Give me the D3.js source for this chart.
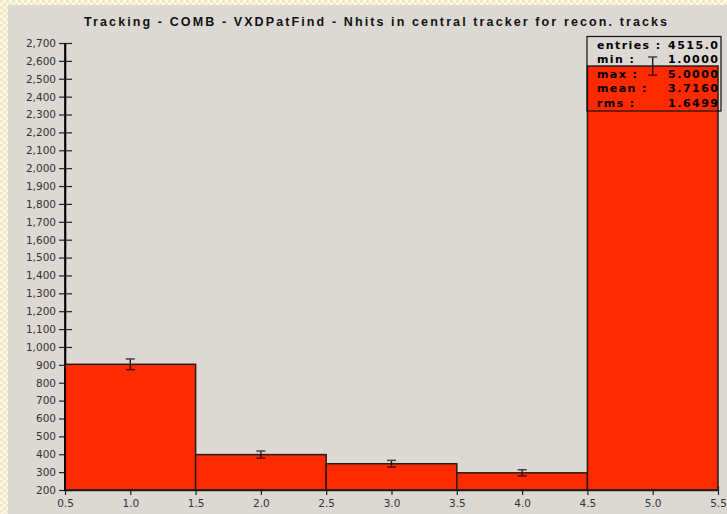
<!DOCTYPE html>
<html>
<head>
<meta charset="utf-8">
<script src="https://cdn.jsdelivr.net/npm/d3@7"></script>
<style>
  html, body { margin: 0; padding: 0; background: #ffffff; }
  svg { display: block; }
</style>
</head>
<body>
<svg id="chart" width="727" height="514"></svg>
<script>
// Histogram data: bin centres, entries per bin and statistics box rows
const binCenters = [1.0, 2.0, 3.0, 4.0, 5.0];
const binCounts = [903, 398, 347, 296, 2571];
const xTickValues = [0.5, 1.0, 1.5, 2.0, 2.5, 3.0, 3.5, 4.0, 4.5, 5.0, 5.5];
const yTickValues = d3.range(200, 2701, 100);
const statLabels = ["entries :", "min :", "max :", "mean :", "rms :"];
const statValues = ["4515.0", "1.0000", "5.0000", "3.7160", "1.6499"];
const chartTitle = "Tracking - COMB - VXDPatFind - Nhits in central tracker for recon. tracks";

const W = 727, H = 514;
const svg = d3.select("#chart");

// Checkered page backdrop
const defs = svg.append("defs");
const pat = defs.append("pattern")
  .attr("id", "checker").attr("width", 6).attr("height", 6)
  .attr("patternUnits", "userSpaceOnUse");
pat.append("rect").attr("width", 6).attr("height", 6).attr("fill", "#fbf8ec");
pat.append("rect").attr("width", 3).attr("height", 3).attr("fill", "#f3e8c4");
pat.append("rect").attr("x", 3).attr("y", 3).attr("width", 3).attr("height", 3).attr("fill", "#f3e8c4");
svg.append("rect").attr("width", W).attr("height", H).attr("fill", "url(#checker)");

// Grey plot panel
svg.append("rect").attr("x", 8).attr("y", 5).attr("width", W - 8).attr("height", H - 5)
  .attr("fill", "#dcd8d4");

const x = d3.scaleLinear().domain([0.5, 5.5]).range([65, 718]);
const y = d3.scaleLinear().domain([200, 2700]).range([490, 43]);

// Title
svg.append("text")
  .attr("x", 84).attr("y", 25.5)
  .attr("textLength", 583).attr("lengthAdjust", "spacing")
  .style("font-family", "'Liberation Sans', Arial, sans-serif")
  .style("font-weight", "bold").style("font-size", "12.5px")
  .attr("fill", "#111")
  .text(chartTitle);

// Y axis (ticks straddle the axis line)
const yAxis = d3.axisLeft(y).tickValues(yTickValues)
  .tickFormat(d3.format(",")).tickSizeInner(6).tickSizeOuter(0).tickPadding(3);
const gy = svg.append("g").attr("transform", "translate(65,0)").call(yAxis);
gy.selectAll(".tick line").attr("x2", 7).attr("x1", -6).attr("stroke", "#222").attr("stroke-width", 1.2);
gy.select(".domain").attr("stroke", "#000").attr("stroke-width", 1.6);
gy.selectAll(".tick text")
  .style("font-family", "'DejaVu Sans', Verdana, sans-serif")
  .style("font-size", "10.5px").attr("fill", "#333").attr("x", -9);

// X axis
const xAxis = d3.axisBottom(x).tickValues(xTickValues)
  .tickFormat(d3.format(".1f")).tickSizeOuter(0).tickPadding(5);
const gx = svg.append("g").attr("transform", "translate(0,490)").call(xAxis);
gx.selectAll(".tick line").attr("y1", -4).attr("y2", 5).attr("stroke", "#222").attr("stroke-width", 1.2);
gx.select(".domain").attr("stroke", "#222").attr("stroke-width", 1.4);
gx.selectAll(".tick text")
  .style("font-family", "'DejaVu Sans', Verdana, sans-serif")
  .style("font-size", "10.5px").attr("fill", "#333").attr("dy", "0.6em");

// Histogram bars
const bars = binCenters.map((c, i) => ({ c, n: binCounts[i] }));
svg.append("g").selectAll("rect").data(bars).join("rect")
  .attr("x", d => x(d.c - 0.5))
  .attr("y", d => y(d.n))
  .attr("width", d => x(d.c + 0.5) - x(d.c - 0.5))
  .attr("height", d => y(200) - y(d.n))
  .attr("fill", "#ff2a00")
  .attr("stroke", "#2a1a16").attr("stroke-width", 1.5);

// Redraw axis lines over the bars
svg.append("line").attr("x1", 65).attr("x2", 65).attr("y1", 43).attr("y2", 491)
  .attr("stroke", "#000").attr("stroke-width", 1.6);
svg.append("line").attr("x1", 65).attr("x2", 718).attr("y1", 490).attr("y2", 490)
  .attr("stroke", "#222").attr("stroke-width", 1.4);

// Statistics box
const box = svg.append("g");
box.append("rect").attr("x", 587).attr("y", 36.5).attr("width", 134).attr("height", 74.5)
  .attr("fill", "none").attr("stroke", "#111").attr("stroke-width", 1.2);
statLabels.forEach((lab, i) => {
  const yy = 48.5 + i * 14.6;
  box.append("text").attr("x", 597).attr("y", yy)
    .style("font-family", "'DejaVu Sans', Verdana, sans-serif")
    .style("font-weight", "bold").style("font-size", "11px")
    .style("letter-spacing", "1.4px").attr("fill", "#000")
    .text(lab);
  box.append("text").attr("x", 719.5).attr("y", yy).attr("text-anchor", "end")
    .style("font-family", "'DejaVu Sans', Verdana, sans-serif")
    .style("font-weight", "bold").style("font-size", "11px")
    .style("letter-spacing", "1.5px").attr("fill", "#000")
    .text(statValues[i]);
});

// Poisson error bars (sqrt N)
const eb = svg.append("g");
bars.forEach(d => {
  const e = Math.sqrt(d.n);
  const cx = x(d.c);
  const yt = y(d.n + e), yb = y(d.n - e);
  eb.append("line").attr("x1", cx).attr("x2", cx).attr("y1", yt).attr("y2", yb)
    .attr("stroke", "#111").attr("stroke-width", 1.3);
  eb.append("line").attr("x1", cx - 4.5).attr("x2", cx + 4.5).attr("y1", yt).attr("y2", yt)
    .attr("stroke", "#444").attr("stroke-width", 1.5);
  eb.append("line").attr("x1", cx - 4.5).attr("x2", cx + 4.5).attr("y1", yb).attr("y2", yb)
    .attr("stroke", "#5a0d00").attr("stroke-width", 1.5);
});
</script>
</body>
</html>
